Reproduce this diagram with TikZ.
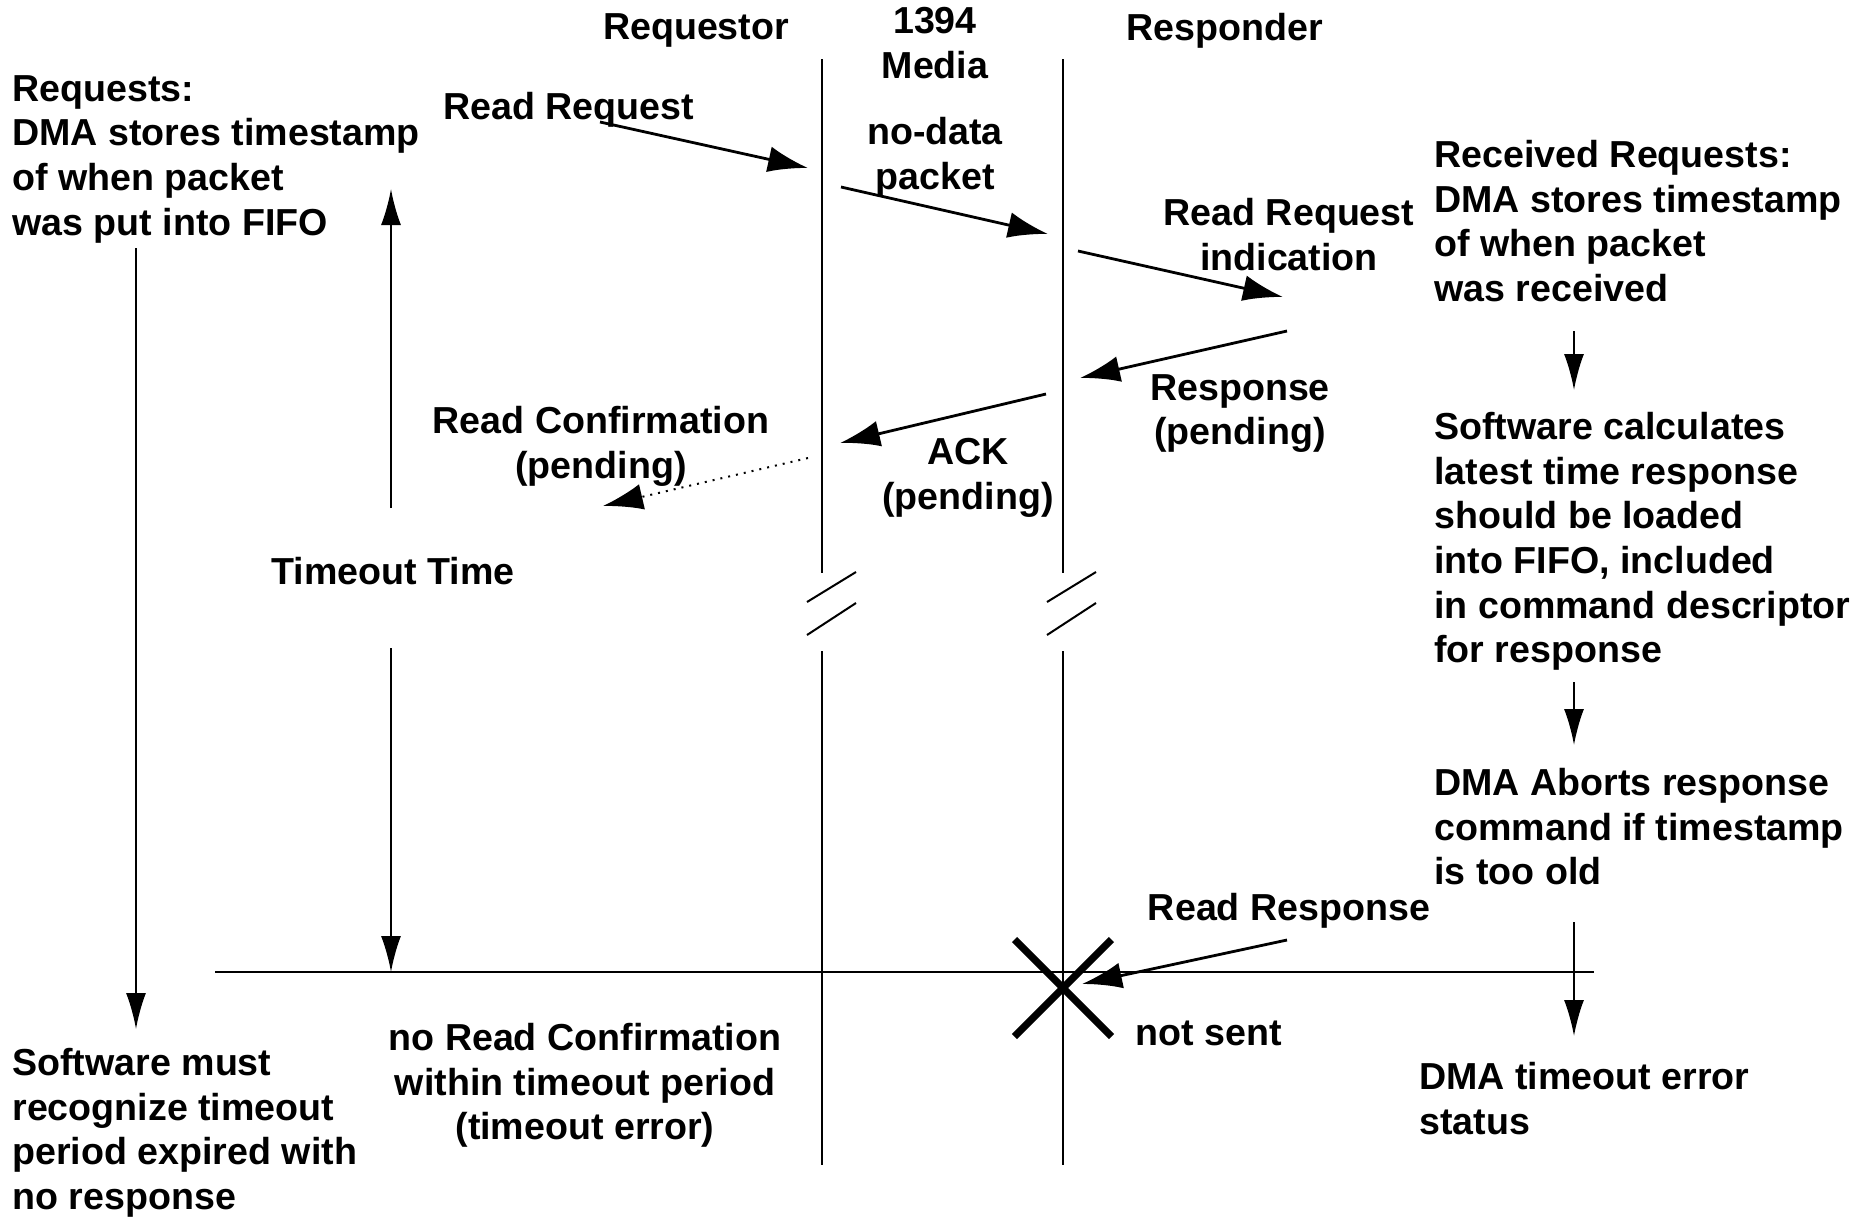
\documentclass[tikz,border=0pt]{standalone}
\usepackage{fontspec}
\setmainfont{Liberation Sans}
\usetikzlibrary{arrows.meta}

\begin{document}
\begin{tikzpicture}[x=5pt,y=5pt,
		lbl/.style={font=\fontsize{18.8pt}{22.3pt}\selectfont\bfseries},
		life/.style={line width=1pt},
		msg/.style={line width=1.4pt,-{Latex[length=20pt,width=13pt]}},
		flow/.style={line width=1pt,-{Latex[length=18pt,width=10pt]}}]
		\tikzstyle{every node}+=[inner sep=0pt]
		\useasboundingbox (0,0) rectangle (185.4,-121.7);
		\node [lbl, anchor=north] (hreq) at (69.6,-1.3) {Requestor};
		\node [lbl, anchor=north, align=center] (hmed) at (93.5,-0.7) {1394\\Media};
		\node [lbl, anchor=north] (hrsp) at (122.5,-1.3) {Responder};
		\coordinate (reqtop) at (82.2,-5.9);
		\coordinate (reqcut) at (82.2,-57.3);
		\coordinate (reqgo) at (82.2,-65.1);
		\coordinate (reqbot) at (82.2,-116.5);
		\coordinate (rsptop) at (106.3,-5.9);
		\coordinate (rspcut) at (106.3,-57.3);
		\coordinate (rspgo) at (106.3,-65.1);
		\coordinate (rspbot) at (106.3,-116.5);
		\draw [life] (reqtop) -- (reqcut);
		\draw [life] (reqgo) -- (reqbot);
		\draw [life] (rsptop) -- (rspcut);
		\draw [life] (rspgo) -- (rspbot);
		\draw [life] (80.7,-60.2) -- (85.6,-57.2);
		\draw [life] (80.7,-63.5) -- (85.6,-60.3);
		\draw [life] (104.7,-60.2) -- (109.6,-57.2);
		\draw [life] (104.7,-63.5) -- (109.6,-60.3);
		\node [lbl, anchor=north west, align=left] (reqnote) at (1.2,-7.5) {Requests:\\DMA stores timestamp\\of when packet\\was put into FIFO};
		\node [lbl, anchor=north west] (rreq) at (44.3,-9.2) {Read Request};
		\node [lbl, anchor=north, align=center] (nodata) at (93.5,-11.7) {no-data\\packet};
		\node [lbl, anchor=north, align=center] (rrind) at (128.9,-19.8) {Read Request\\indication};
		\node [lbl, anchor=north west, align=left] (rcvnote) at (143.4,-14.0) {Received Requests:\\DMA stores timestamp\\of when packet\\was received};
		\node [lbl, anchor=north, align=center] (resp) at (124.0,-37.4) {Response\\(pending)};
		\node [lbl, anchor=north, align=center] (ack) at (96.8,-43.8) {ACK\\(pending)};
		\node [lbl, anchor=north, align=center] (rconf) at (60.1,-40.6) {Read Confirmation\\(pending)};
		\node [lbl] (tmo) at (39.3,-57.1) {Timeout Time};
		\node [lbl, anchor=north west, align=left] (swnote) at (143.4,-41.2) {Software calculates\\latest time response\\should be loaded\\into FIFO, included\\in command descriptor\\for response};
		\node [lbl, anchor=north west, align=left] (abortnote) at (143.4,-76.8) {DMA Aborts response\\command if timestamp\\is too old};
		\node [lbl, anchor=north] (rresp) at (128.9,-89.3) {Read Response};
		\node [lbl, anchor=north west] (notsent) at (113.5,-102.1) {not sent};
		\node [lbl, anchor=north west, align=left] (statnote) at (141.9,-106.2) {DMA timeout error\\status};
		\node [lbl, anchor=north, align=center] (noconf) at (58.5,-102.3) {no Read Confirmation\\within timeout period\\(timeout error)};
		\node [lbl, anchor=north west, align=left] (swmust) at (1.2,-104.8) {Software must\\recognize timeout\\period expired with\\no response};
		\coordinate (m1a) at (60.0,-12.2);
		\coordinate (m1b) at (80.8,-16.8);
		\coordinate (m2a) at (84.1,-18.7);
		\coordinate (m2b) at (104.8,-23.4);
		\coordinate (m3a) at (107.8,-25.1);
		\coordinate (m3b) at (128.3,-29.7);
		\coordinate (m4a) at (128.7,-33.1);
		\coordinate (m4b) at (108.0,-37.8);
		\coordinate (m5a) at (104.6,-39.4);
		\coordinate (m5b) at (84.0,-44.3);
		\coordinate (m6a) at (80.8,-45.8);
		\coordinate (m6b) at (60.3,-50.6);
		\coordinate (m7a) at (128.7,-94.0);
		\coordinate (m7b) at (108.2,-98.4);
		\draw [msg] (m1a) -- (m1b);
		\draw [msg] (m2a) -- (m2b);
		\draw [msg] (m3a) -- (m3b);
		\draw [msg] (m4a) -- (m4b);
		\draw [msg] (m5a) -- (m5b);
		\draw [msg, line width=1pt, dash pattern=on 1pt off 3pt] (m6a) -- (m6b);
		\draw [msg] (m7a) -- (m7b);
		\coordinate (lost) at (106.3,-98.8);
		\draw [line width=3.6pt] (lost) ++(-4.85,4.85) -- ++(9.7,-9.7);
		\draw [line width=3.6pt] (lost) ++(-4.85,-4.85) -- ++(9.7,9.7);
		\coordinate (expl) at (21.5,-97.2);
		\coordinate (expr) at (159.4,-97.2);
		\draw [life] (expl) -- (expr);
		\coordinate (rqa) at (13.6,-24.8);
		\coordinate (rqb) at (13.6,-102.9);
		\draw [flow] (rqa) -- (rqb);
		\coordinate (toa) at (39.1,-50.8);
		\coordinate (tob) at (39.1,-18.9);
		\coordinate (toc) at (39.1,-64.8);
		\coordinate (tod) at (39.1,-97.2);
		\draw [flow] (toa) -- (tob);
		\draw [flow] (toc) -- (tod);
		\coordinate (sa) at (157.4,-33.1);
		\coordinate (sb) at (157.4,-39.0);
		\coordinate (sc) at (157.4,-68.2);
		\coordinate (sd) at (157.4,-74.5);
		\coordinate (se) at (157.4,-92.2);
		\coordinate (sf) at (157.4,-103.6);
		\draw [flow] (sa) -- (sb);
		\draw [flow] (sc) -- (sd);
		\draw [flow] (se) -- (sf);
	\end{tikzpicture}
\end{document}
